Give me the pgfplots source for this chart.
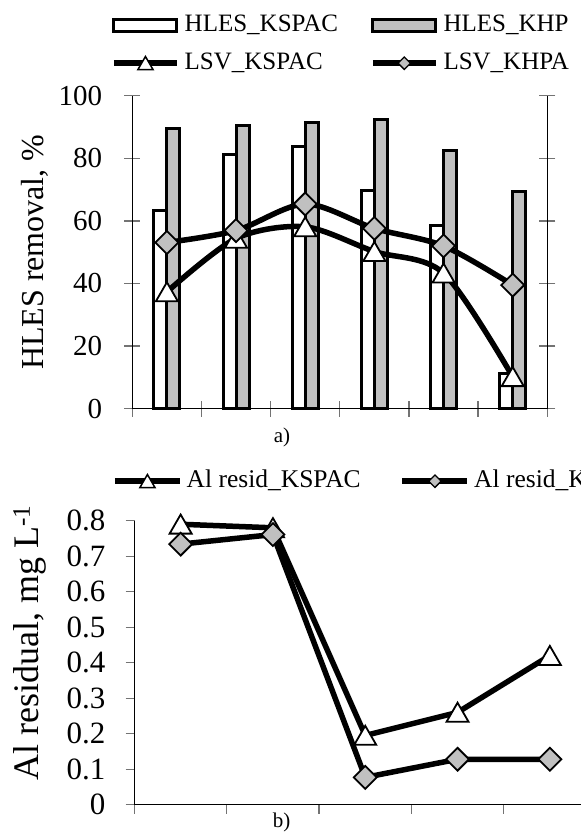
\documentclass[border=0pt]{standalone}
\usepackage{pgfplots}
\pgfplotsset{compat=1.18}
\usepackage{fontspec}
\setmainfont{Liberation Serif}
\definecolor{barg}{RGB}{192,192,192}
\pgfplotsset{
  barleg/.style={legend image code/.code={\draw[##1] (0pt,-6pt) rectangle (63pt,6pt);}},
  trileg/.style={legend image code/.code={\draw[##1, mark repeat=2, mark phase=2, mark size=8.7pt, mark options={fill=white, draw=black, line width=1.5pt, yshift=-2pt}] plot coordinates {(0pt,0pt) (#1/2,0pt) (#1,0pt)};}},
  dialeg/.style={legend image code/.code={\draw[##1, mark repeat=2, mark phase=2, mark size=4.4pt, mark options={rotate=45, fill=barg, draw=black, line width=1.3pt}] plot coordinates {(0pt,0pt) (#1/2,0pt) (#1,0pt)};}},
}
\begin{document}
\begin{tikzpicture}
\useasboundingbox (0pt,0pt) rectangle (581pt,833pt);
\clip (0pt,0pt) rectangle (581pt,833pt);
\begin{axis}[
  scale only axis, width=415pt, height=313pt,
  at={(132.3pt,424.3pt)}, anchor=south west,
  xmin=0.5, xmax=6.5, ymin=0, ymax=100,
  axis x line=bottom, axis y line=box,
  axis line style={-, line width=1.2pt},
  x axis line style={-}, y axis line style={-},
  xtick={0.5,1.5,2.5,3.5,4.5,5.5,6.5}, xticklabels={},
  ytick={0,20,40,60,80,100},
  yticklabel pos=left,
  tick align=center, major tick length=16pt,
  tick style={black!55, line width=1.3pt},
  /pgf/number format/assume math mode=true,
  yticklabel style={font=\fontsize{29}{29}\selectfont, anchor=east, inner sep=0pt, xshift=-22pt},
  ylabel={HLES removal, \%},
  ylabel style={font=\fontsize{32}{32}\selectfont, at={(axis description cs:-0.2345,0.5)}, anchor=center},
  clip=false,
  legend columns=2, legend cell align=left,
  legend style={draw=none, fill=none, font=\fontsize{25}{25}\selectfont,
    at={(axis description cs:-0.0513,1.261)}, anchor=north west, inner sep=0pt,
    nodes={inner sep=0pt, text height=17pt, text depth=5pt},
    /tikz/every odd column/.append style={column sep=5pt},
    /tikz/every even column/.append style={column sep=32pt},
    row sep=16pt},
]
\addplot[ybar, bar width=13pt, bar shift=-6.5pt, fill=white, draw=black, line width=3pt, barleg]
  coordinates {(1,63.2)(2,81.1)(3,83.7)(4,69.8)(5,58.4)(6,11.4)};
\addlegendentry{HLES\_KSPAC}
\addplot[ybar, bar width=13pt, bar shift=6.5pt, fill=barg, draw=black, line width=3pt, barleg]
  coordinates {(1,89.6)(2,90.5)(3,91.5)(4,92.3)(5,82.6)(6,69.5)};
\addlegendentry{HLES\_KHP}
\addplot[smooth, line width=5.5pt, mark=triangle*, mark size=12.7pt,
  mark options={fill=white, draw=black, line width=1.8pt, yshift=-3pt}, trileg=63pt]
  coordinates {(1,37.3)(2,54.4)(3,58.1)(4,50.2)(5,43.3)(6,10.2)};
\addlegendentry{LSV\_KSPAC}
\addplot[smooth, line width=5.5pt, mark=square*, mark size=8.1pt,
  mark options={rotate=45, fill=barg, draw=black, line width=1.8pt}, dialeg=63pt]
  coordinates {(1,53.1)(2,56.9)(3,65.4)(4,57.6)(5,52.0)(6,39.5)};
\addlegendentry{LSV\_KHPA}
\end{axis}
\node[font=\fontsize{21}{21}\selectfont] at (282pt,396pt) {a)};
\begin{axis}[
  scale only axis, width=461.5pt, height=284pt,
  at={(134.5pt,28.3pt)}, anchor=south west,
  xmin=0.5, xmax=5.5, ymin=0, ymax=0.8,
  axis x line=bottom, axis y line=left,
  axis line style={-, line width=1.2pt},
  x axis line style={-}, y axis line style={-},
  xtick={0.5,1.5,2.5,3.5,4.5,5.5}, xticklabels={},
  ytick={0,0.1,0.2,0.3,0.4,0.5,0.6,0.7,0.8},
  yticklabels={0,0.1,0.2,0.3,0.4,0.5,0.6,0.7,0.8},
  tick align=outside, major tick length=9pt,
  tick style={black!55, line width=1.3pt},
  /pgf/number format/assume math mode=true,
  yticklabel style={font=\fontsize{31}{31}\selectfont, anchor=east, inner sep=0pt, xshift=-20pt},
  ylabel={Al residual, mg L\textsuperscript{-1}},
  ylabel style={font=\fontsize{36}{36}\selectfont, at={(axis description cs:-0.2264,0.569)}, anchor=center},
  clip=false,
  legend columns=2, legend cell align=left,
  legend style={draw=none, fill=none, font=\fontsize{25.5}{25.5}\selectfont,
    at={(axis description cs:-0.0488,1.1785)}, anchor=north west, inner sep=0pt,
    nodes={inner sep=0pt, text height=17pt, text depth=5pt},
    /tikz/every odd column/.append style={column sep=4pt},
    /tikz/every even column/.append style={column sep=39pt}},
]
\addplot[line width=5.5pt, mark=triangle*, mark size=12.7pt,
  mark options={fill=white, draw=black, line width=1.8pt, yshift=-3pt}, trileg=65pt]
  coordinates {(1,0.79)(2,0.78)(3,0.195)(4,0.26)(5,0.42)};
\addlegendentry{Al resid\_KSPAC}
\addplot[line width=5.5pt, mark=square*, mark size=8.1pt,
  mark options={rotate=45, fill=barg, draw=black, line width=1.8pt}, dialeg=65pt]
  coordinates {(1,0.734)(2,0.761)(3,0.077)(4,0.128)(5,0.128)};
\addlegendentry{Al resid\_KHPA}
\end{axis}
\node[font=\fontsize{21}{21}\selectfont] at (281.5pt,11pt) {b)};
\end{tikzpicture}
\end{document}
